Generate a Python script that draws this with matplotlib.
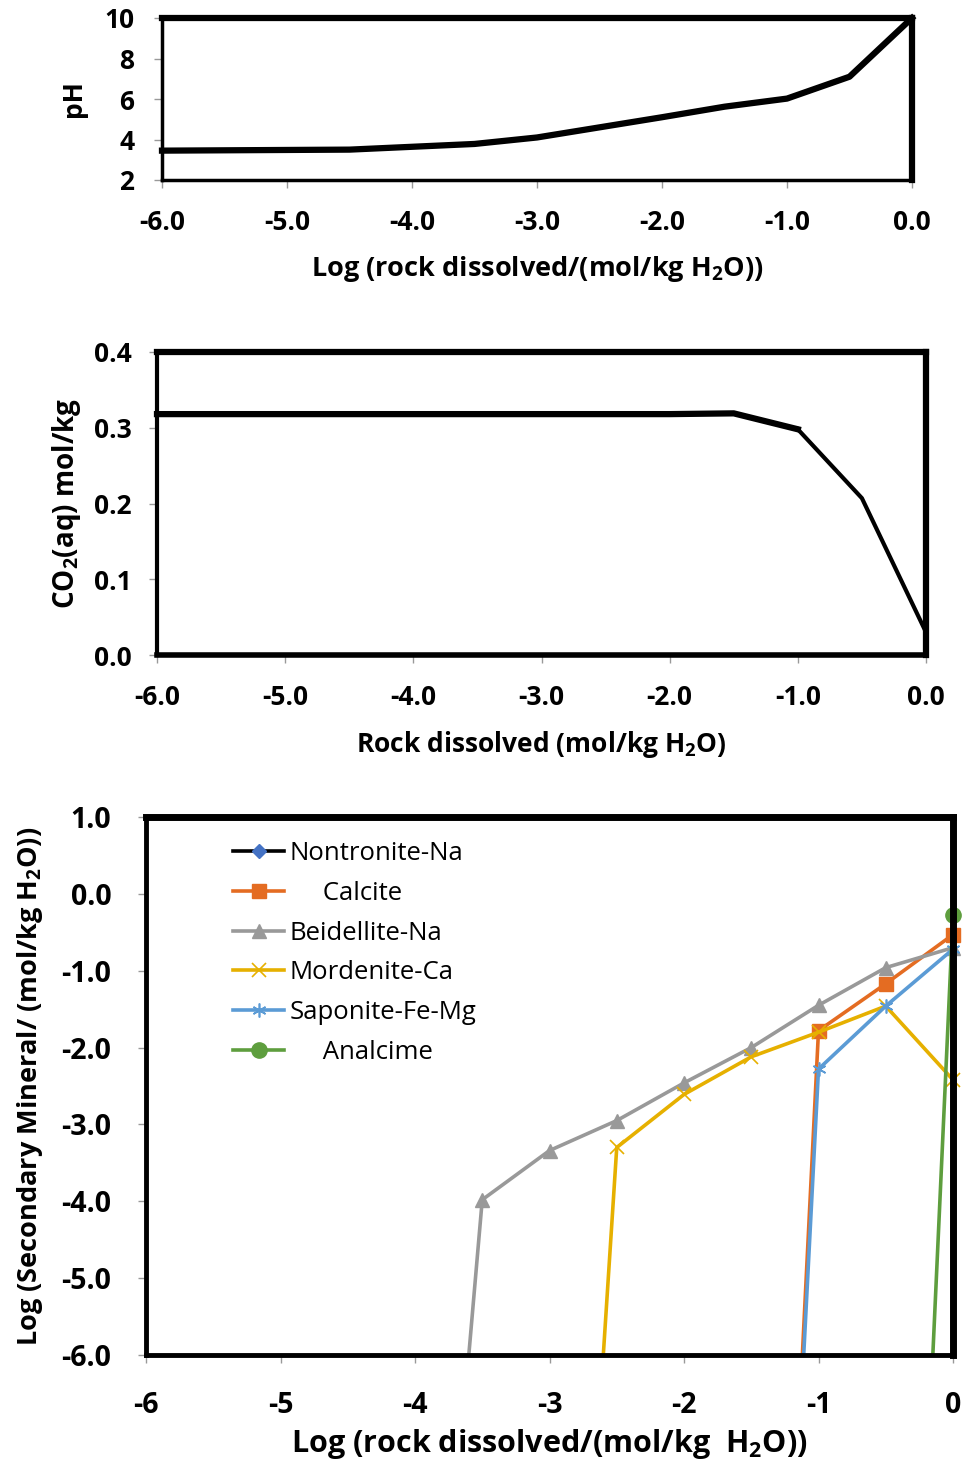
import matplotlib
matplotlib.use("Agg")
import matplotlib.pyplot as plt

plt.rcParams['font.family'] = ['Open Sans', 'DejaVu Sans']
plt.rcParams['mathtext.fontset'] = 'custom'
plt.rcParams['mathtext.rm'] = 'Open Sans'
plt.rcParams['mathtext.bf'] = 'Open Sans:bold'
plt.rcParams['mathtext.default'] = 'regular'

# ---------------- data ----------------
ph_x = [-6.0, -4.5, -3.5, -3.0, -2.5, -2.0, -1.5, -1.0, -0.5, 0.0]
ph_y = [3.45, 3.5, 3.78, 4.1, 4.6, 5.1, 5.62, 6.02, 7.1, 10.0]

co2_x = [-6.0, -5.0, -4.0, -3.0, -2.0, -1.5, -1.0, -0.5, 0.0]
co2_y = [0.318, 0.318, 0.318, 0.318, 0.318, 0.319, 0.298, 0.207, 0.030]

beid_x = [-3.6, -3.5, -3.0, -2.5, -2.0, -1.5, -1.0, -0.5, 0.0]
beid_y = [-6.0, -3.98, -3.34, -2.95, -2.46, -2.0, -1.45, -0.96, -0.70]

mord_x = [-2.6, -2.5, -2.0, -1.5, -1.0, -0.5, 0.0]
mord_y = [-6.0, -3.30, -2.61, -2.12, -1.80, -1.46, -2.42]

calc_x = [-1.12, -1.0, -0.5, 0.0]
calc_y = [-6.0, -1.78, -1.17, -0.53]

sapo_x = [-1.11, -1.0, -0.5, 0.0]
sapo_y = [-6.0, -2.28, -1.46, -0.72]

anal_x = [-0.15, 0.0]
anal_y = [-6.0, -0.28]

x_ticks_top = [-6, -5, -4, -3, -2, -1, 0]
ph_ticks = [2, 4, 6, 8, 10]
co2_ticks = [0.0, 0.1, 0.2, 0.3, 0.4]
min_ticks = [1, 0, -1, -2, -3, -4, -5, -6]

W, H = 964, 1465
fig = plt.figure(figsize=(W / 100, H / 100), dpi=100)


def rect(l, t, r, b):
    return [l / W, 1 - b / H, (r - l) / W, (b - t) / H]


def style_axes(ax, lw_lb, lw_tr):
    for s in ['left', 'bottom']:
        ax.spines[s].set_linewidth(lw_lb)
        ax.spines[s].set_color('black')
    for s in ['top', 'right']:
        ax.spines[s].set_linewidth(lw_tr)
        ax.spines[s].set_color('black')
    ax.tick_params(direction='out', length=6, width=1, color='#999999')


BOLD = dict(fontweight='bold')

# ---------------- panel 1: pH ----------------
ax1 = fig.add_axes(rect(162, 18, 912, 180))
ax1.plot(ph_x, ph_y, color='black', lw=4.5, solid_joinstyle='round', clip_on=False)
ax1.set_xlim(-6, 0)
ax1.set_ylim(2, 10)
ax1.set_xticks(x_ticks_top)
ax1.set_xticklabels([f"{v:.1f}" for v in x_ticks_top], fontsize=19, **BOLD)
ax1.set_yticks(ph_ticks)
ax1.set_yticklabels([str(v) for v in ph_ticks], fontsize=19, **BOLD)
ax1.tick_params(axis='x', pad=15)
ax1.tick_params(axis='y', pad=14)
style_axes(ax1, 2.5, 4.5)
ax1.set_xlabel("Log (rock dissolved/(mol/kg H$\\mathbf{_2}$O))", fontsize=19.5,
               labelpad=13, **BOLD)
ax1.set_ylabel("pH", fontsize=19, labelpad=12, **BOLD)

# ---------------- panel 2: CO2 ----------------
ax2 = fig.add_axes(rect(157, 352, 926, 655))
split = co2_x.index(-1.0)
ax2.plot(co2_x[:split + 1], co2_y[:split + 1], color='black', lw=4.5, clip_on=False)
ax2.plot(co2_x[split:], co2_y[split:], color='black', lw=3, clip_on=False)
ax2.set_xlim(-6, 0)
ax2.set_ylim(0, 0.4)
ax2.set_xticks(x_ticks_top)
ax2.set_xticklabels([f"{v:.1f}" for v in x_ticks_top], fontsize=19, **BOLD)
ax2.set_yticks(co2_ticks)
ax2.set_yticklabels([f"{v:.1f}" for v in co2_ticks], fontsize=19, **BOLD)
ax2.tick_params(axis='x', pad=15)
ax2.tick_params(axis='y', pad=12)
style_axes(ax2, 3, 4.5)
ax2.spines['bottom'].set_linewidth(4)
ax2.set_xlabel("Rock dissolved (mol/kg H$\\mathbf{_2}$O)", fontsize=19,
               labelpad=13, **BOLD)
ax2.set_ylabel("CO$\\mathbf{_2}$(aq) mol/kg", fontsize=20, labelpad=8, **BOLD)

# ---------------- panel 3: secondary minerals ----------------
ax3 = fig.add_axes(rect(146, 817, 953, 1355))
lw = 2.6
ax3.plot([], [], color='black', lw=lw, marker='D', ms=7, mfc='#4472C4',
         mec='#4472C4', label='Nontronite-Na')
ax3.plot(calc_x, calc_y, color='#E46C22', lw=lw, marker='s', ms=10,
         markevery=list(range(1, len(calc_x))), label='     Calcite', clip_on=False)
ax3.plot(beid_x, beid_y, color='#999999', lw=lw, marker='^', ms=10,
         markevery=list(range(1, len(beid_x))), label='Beidellite-Na', clip_on=False)
ax3.plot(mord_x, mord_y, color='#E6B000', lw=lw, marker='x', ms=10, mew=1.2,
         markevery=list(range(1, len(mord_x))), label='Mordenite-Ca', clip_on=False)
ax3.plot(sapo_x, sapo_y, color='#5B9BD5', lw=lw, marker=(6, 2, 0), ms=10, mew=1.2,
         markevery=list(range(1, len(sapo_x))), label='Saponite-Fe-Mg', clip_on=False)
ax3.plot(anal_x, anal_y, color='#5E9E3E', lw=lw, marker='o', ms=11,
         markevery=[1], label='     Analcime', clip_on=False)
ax3.set_xlim(-6, 0)
ax3.set_ylim(-6, 1)
ax3.set_xticks(x_ticks_top)
ax3.set_xticklabels([str(v) for v in x_ticks_top], fontsize=20.5, **BOLD)
ax3.set_yticks(min_ticks)
ax3.set_yticklabels([f"{v:.1f}" for v in min_ticks], fontsize=20.5, **BOLD)
ax3.tick_params(axis='x', pad=20)
ax3.tick_params(axis='y', pad=19)
style_axes(ax3, 3.5, 5)
ax3.set_xlabel("Log (rock dissolved/(mol/kg  H$\\mathbf{_2}$O))", fontsize=22,
               labelpad=5, **BOLD)
ax3.set_ylabel("Log (Secondary Mineral/ (mol/kg H$\\mathbf{_2}$O))", fontsize=19.5,
               labelpad=12, **BOLD)
leg = ax3.legend(loc='upper left', bbox_to_anchor=(0.095, 0.975), frameon=False,
                 fontsize=18.5, handlelength=2.0, handletextpad=0.2, labelspacing=0.58,
                 borderaxespad=0)

fig.savefig("out.png", dpi=100)
